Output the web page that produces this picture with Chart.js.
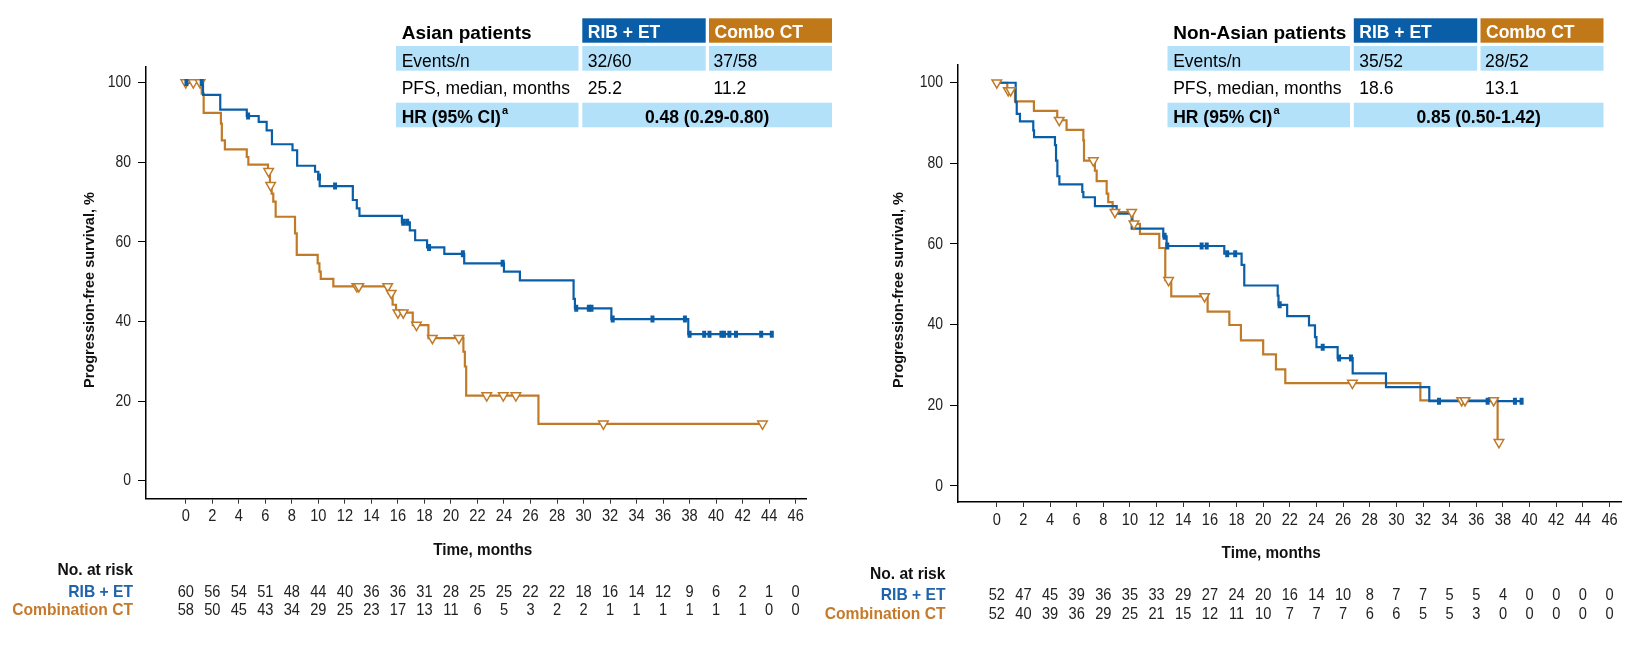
<!DOCTYPE html>
<html>
<head>
<meta charset="utf-8">
<script src="https://cdn.jsdelivr.net/npm/chart.js@4.4.1/dist/chart.umd.min.js"></script>
<style>
  html, body { margin: 0; padding: 0; background: #fff; }
  #wrap { position: relative; width: 1646px; height: 654px; overflow: hidden; }
  canvas { position: absolute; top: 0; display: block; }
</style>
</head>
<body>
<div id="wrap">
  <canvas id="asian" width="850" height="654" style="left:0"></canvas>
  <canvas id="nonAsian" width="866" height="654" style="left:780px"></canvas>
</div>
<script>
// ---- data ----
const timeTicks = [0, 2, 4, 6, 8, 10, 12, 14, 16, 18, 20, 22, 24, 26, 28, 30, 32, 34, 36, 38, 40, 42, 44, 46];
const yTicks = [0, 20, 40, 60, 80, 100];

// Asian patients
const asianRibT = [0, 1.3, 2.6, 4.6, 5.5, 6.1, 6.5, 8.05, 8.4, 9.75, 10.0, 10.1, 12.6, 12.9, 13.1, 16.3, 16.9, 17.3, 18.2, 19.5, 21.0, 24.0, 25.2, 29.25, 29.35, 32.1, 37.9, 44.2];
const asianRibS = [100, 96.9, 93.2, 91.6, 90.1, 88.0, 84.5, 83.0, 79.1, 77.6, 76.3, 74.0, 70.5, 68.4, 66.5, 64.9, 62.9, 60.4, 58.6, 57.0, 54.6, 52.5, 50.3, 45.7, 43.3, 40.6, 36.8, 36.8];
const asianRibCens = [0.05, 1.2, 4.7, 10.05, 11.26, 16.4, 16.7, 18.35, 20.9, 23.9, 29.45, 30.4, 30.6, 32.2, 35.2, 37.65, 38.0, 39.1, 39.5, 40.4, 40.6, 41.0, 41.5, 43.4, 44.2];
const asianCtT = [0, 1.2, 1.35, 2.65, 2.72, 2.95, 4.6, 4.72, 6.2, 6.35, 6.48, 6.6, 6.78, 8.24, 8.37, 9.95, 10.08, 10.18, 11.13, 15.3, 15.6, 15.86, 17.12, 18.3, 20.94, 21.05, 21.15, 26.6, 43.5];
const asianCtS = [100, 97.2, 92.4, 89.7, 85.5, 83.2, 81.3, 79.4, 77.7, 74.2, 72.1, 70.1, 66.3, 62.1, 56.7, 54.6, 52.5, 50.7, 48.8, 47.1, 44.2, 42.2, 39.1, 35.8, 32.4, 28.7, 21.4, 14.3, 14.3];
const asianCtCens = [0, 0.57, 1.08, 6.25, 6.4, 12.9, 13.05, 15.23, 15.5, 16.0, 16.4, 17.4, 18.6, 20.6, 22.7, 23.95, 24.9, 31.5, 43.5];
const asianRiskRib = [60, 56, 54, 51, 48, 44, 40, 36, 36, 31, 28, 25, 25, 22, 22, 18, 16, 14, 12, 9, 6, 2, 1, 0];
const asianRiskCt = [58, 50, 45, 43, 34, 29, 25, 23, 17, 13, 11, 6, 5, 3, 2, 2, 1, 1, 1, 1, 1, 1, 0, 0];
const asianEvents = ['32/60', '37/58'];
const asianMedian = ['25.2', '11.2'];
const asianHR = '0.48 (0.29-0.80)';

// Non-Asian patients
const nonAsianRibT = [0, 1.42, 1.5, 1.74, 2.74, 2.8, 4.37, 4.45, 4.55, 4.7, 6.42, 6.5, 7.37, 9.0, 10.13, 12.5, 12.75, 17.08, 18.38, 18.58, 21.09, 21.15, 21.8, 23.44, 23.89, 24.0, 25.59, 26.72, 29.22, 32.47, 39.5];
const nonAsianRibS = [100, 95.2, 92.3, 90.4, 88.2, 86.5, 84.5, 80.7, 76.8, 74.8, 72.9, 71.6, 69.4, 67.5, 63.8, 61.9, 59.5, 57.6, 54.8, 49.7, 47.2, 44.9, 42.1, 39.8, 36.9, 34.4, 31.7, 27.9, 24.5, 21.0, 21.0];
const nonAsianRibCens = [12.6, 12.8, 15.38, 15.76, 17.3, 17.9, 21.24, 24.47, 25.7, 26.59, 33.2, 36.85, 38.9, 39.4];
const nonAsianCtT = [0, 0.79, 1.37, 2.79, 4.54, 5.24, 6.5, 6.55, 7.37, 7.5, 8.25, 8.37, 8.7, 10.2, 10.75, 12.2, 12.65, 13.1, 15.83, 17.46, 18.33, 20.0, 20.96, 21.66, 31.8, 37.6, 37.7];
const nonAsianCtS = [100, 98.1, 95.4, 93.0, 90.7, 88.3, 85.7, 80.7, 78.2, 75.6, 72.5, 70.4, 67.9, 65.0, 62.5, 59.0, 51.0, 47.0, 43.2, 39.9, 36.1, 32.6, 28.9, 25.5, 21.2, 10.8, 10.8];
const nonAsianCtCens = [0, 0.86, 1.04, 4.69, 7.25, 8.87, 10.13, 10.3, 12.9, 15.6, 26.7, 34.9, 35.15, 37.3, 37.7];
const nonAsianRiskRib = [52, 47, 45, 39, 36, 35, 33, 29, 27, 24, 20, 16, 14, 10, 8, 7, 7, 5, 5, 4, 0, 0, 0, 0];
const nonAsianRiskCt = [52, 40, 39, 36, 29, 25, 21, 15, 12, 11, 10, 7, 7, 7, 6, 6, 5, 5, 3, 0, 0, 0, 0, 0];
const nonAsianEvents = ['35/52', '28/52'];
const nonAsianMedian = ['18.6', '13.1'];
const nonAsianHR = '0.85 (0.50-1.42)';

// ---- styling ----
const BLUE = '#0A5EA8';
const ORANGE = '#C07A28';
const HEAD_ORANGE = '#C17818';
const LIGHT = '#B3E1FA';
const SANS = "'Liberation Sans', Arial, sans-serif";

function stepValue(T, S, t) {
  let v = S[0];
  for (let i = 0; i < T.length; i++) if (T[i] <= t) v = S[i];
  return v;
}
const curve = (T, S) => T.map((t, i) => ({ x: t, y: S[i] }));
const marks = (T, S, C) => C.map(t => ({ x: t, y: stepValue(T, S, t) }));

// condensed text: Liberation Sans squeezed horizontally
function narrowText(ctx, text, x, y, align, sq) {
  ctx.save();
  ctx.translate(x, y);
  ctx.scale(sq, 1);
  ctx.textAlign = align;
  ctx.fillText(text, 0, 0);
  ctx.restore();
}

function drawTable(ctx, tx, title, events, median, hr) {
  const c0 = tx, c1 = tx + 186.3, c2 = tx + 313, end = tx + 436;
  ctx.fillStyle = BLUE;
  ctx.fillRect(c1, 18.3, 123.4, 24.4);
  ctx.fillStyle = HEAD_ORANGE;
  ctx.fillRect(c2, 18.3, 123, 24.4);
  ctx.fillStyle = LIGHT;
  ctx.fillRect(c0, 46, 182.5, 24.7);
  ctx.fillRect(c1, 46, 123.4, 24.7);
  ctx.fillRect(c2, 46, 123, 24.7);
  ctx.fillRect(c0, 102.7, 182.5, 24.6);
  ctx.fillRect(c1, 102.7, end - c1, 24.6);

  ctx.textAlign = 'left';
  ctx.textBaseline = 'alphabetic';
  ctx.fillStyle = '#000';
  ctx.font = 'bold 19px ' + SANS;
  ctx.fillText(title, c0 + 5.7, 39.3);
  ctx.fillStyle = '#fff';
  ctx.font = 'bold 17.5px ' + SANS;
  ctx.fillText('RIB + ET', c1 + 5.5, 38.3);
  ctx.fillText('Combo CT', c2 + 5.5, 38.3);

  ctx.fillStyle = '#000';
  ctx.font = '17.5px ' + SANS;
  ctx.fillText('Events/n', c0 + 5.7, 66.5);
  ctx.fillText(events[0], c1 + 5.5, 66.5);
  ctx.fillText(events[1], c2 + 4.5, 66.5);
  ctx.fillText('PFS, median, months', c0 + 5.7, 94.3);
  ctx.fillText(median[0], c1 + 5.5, 94.3);
  ctx.fillText(median[1], c2 + 4.5, 94.3);

  ctx.font = 'bold 17.5px ' + SANS;
  const hrLabel = 'HR (95% CI)';
  ctx.fillText(hrLabel, c0 + 5.7, 122.7);
  const w = ctx.measureText(hrLabel).width;
  ctx.font = 'bold 11px ' + SANS;
  ctx.fillText('a', c0 + 5.7 + w + 1, 114);
  ctx.font = 'bold 17.5px ' + SANS;
  ctx.textAlign = 'center';
  ctx.fillText(hr, (c1 + end) / 2, 122.7);
}

function makePanel(id, p) {
  const canvas = document.getElementById(id);
  const W = canvas.width, H = canvas.height;

  const overlay = {
    id: 'overlay',
    afterDraw(chart) {
      const ctx = chart.ctx;
      const xs = chart.scales.x, ys = chart.scales.y;
      const area = chart.chartArea;
      ctx.save();
      ctx.textBaseline = 'middle';

      // tick labels
      ctx.fillStyle = '#222';
      ctx.font = '17px ' + SANS;
      yTicks.forEach(v => narrowText(ctx, String(v), area.left - 15, ys.getPixelForValue(v), 'right', 0.82));
      timeTicks.forEach(m => narrowText(ctx, String(m), xs.getPixelForValue(m), area.bottom + 18, 'center', 0.86));

      // y title
      ctx.save();
      ctx.translate(p.yTitleX, 290);
      ctx.rotate(-Math.PI / 2);
      ctx.textAlign = 'center';
      ctx.fillStyle = '#111';
      ctx.font = 'bold 14.5px ' + SANS;
      ctx.fillText('Progression-free survival, %', 0, 0);
      ctx.restore();

      // x title
      ctx.fillStyle = '#111';
      ctx.font = 'bold 17px ' + SANS;
      narrowText(ctx, 'Time, months', xs.getPixelForValue(p.xTitleAt), p.rows[0], 'center', 0.9);

      // number at risk
      narrowText(ctx, 'No. at risk', p.riskLabelX, p.rows[1], 'right', 0.92);
      ctx.fillStyle = '#1F63AC';
      narrowText(ctx, 'RIB + ET', p.riskLabelX, p.rows[2], 'right', 0.92);
      ctx.fillStyle = '#C47A2A';
      narrowText(ctx, 'Combination CT', p.riskLabelX, p.rows[3], 'right', 0.92);

      ctx.fillStyle = '#222';
      ctx.font = '17px ' + SANS;
      timeTicks.forEach((m, i) => {
        const x = xs.getPixelForValue(m);
        narrowText(ctx, String(p.riskRib[i]), x, p.rows[2], 'center', 0.86);
        narrowText(ctx, String(p.riskCt[i]), x, p.rows[3], 'center', 0.86);
      });

      drawTable(ctx, p.tableX, p.title, p.events, p.median, p.hr);
      ctx.restore();
    }
  };

  new Chart(canvas, {
    type: 'scatter',
    data: {
      datasets: [
        {
          data: marks(p.ribT, p.ribS, p.ribCens),
          pointStyle: 'line', pointRotation: 90, pointRadius: 3.5,
          pointBorderWidth: 4, pointBorderColor: BLUE, pointBackgroundColor: BLUE
        },
        {
          data: marks(p.ctT, p.ctS, p.ctCens),
          pointStyle: 'triangle', pointRotation: 180, pointRadius: 5.5,
          pointBorderWidth: 1.5, pointBorderColor: ORANGE, pointBackgroundColor: '#fff'
        },
        {
          data: curve(p.ribT, p.ribS), showLine: true, stepped: 'before',
          borderColor: BLUE, borderWidth: 2.2, pointRadius: 0, fill: false
        },
        {
          data: curve(p.ctT, p.ctS), showLine: true, stepped: 'before',
          borderColor: ORANGE, borderWidth: 2.2, pointRadius: 0, fill: false
        }
      ]
    },
    options: {
      responsive: false,
      animation: false,
      events: [],
      layout: {
        autoPadding: false,
        padding: { left: p.plotLeft - p.axisBox, top: p.plotTop, right: W - p.plotRight, bottom: 0 }
      },
      plugins: { legend: { display: false }, tooltip: { enabled: false } },
      scales: {
        x: {
          type: 'linear', min: p.xMin, max: p.xMax,
          afterBuildTicks: s => { s.ticks = timeTicks.map(v => ({ value: v })); },
          afterFit: s => { s.height = H - p.plotBottom; },
          grid: { display: true, drawOnChartArea: false, drawTicks: true, tickLength: 5, color: '#333', lineWidth: 1 },
          border: { display: true, color: '#000', width: 1.5 },
          ticks: { display: false }
        },
        y: {
          type: 'linear', min: p.yMin, max: p.yMax,
          afterBuildTicks: s => { s.ticks = yTicks.map(v => ({ value: v })); },
          afterFit: s => { s.width = p.axisBox; },
          grid: { display: true, drawOnChartArea: false, drawTicks: true, tickLength: 8, color: '#000', lineWidth: 1 },
          border: { display: true, color: '#000', width: 1.5 },
          ticks: { display: false }
        }
      }
    },
    plugins: [overlay]
  });
}

makePanel('asian', {
  ribT: asianRibT, ribS: asianRibS, ribCens: asianRibCens,
  ctT: asianCtT, ctS: asianCtS, ctCens: asianCtCens,
  riskRib: asianRiskRib, riskCt: asianRiskCt,
  title: 'Asian patients', events: asianEvents, median: asianMedian, hr: asianHR,
  axisBox: 40, plotLeft: 146, plotRight: 806, plotTop: 67, plotBottom: 498.7,
  xMin: -3, xMax: 46.78, yMin: -4.5, yMax: 103.9, xTitleAt: 22.4,
  yTitleX: 90, riskLabelX: 133, rows: [550, 570, 592, 610], tableX: 396
});

// right canvas starts at x = 780 of the page
makePanel('nonAsian', {
  ribT: nonAsianRibT, ribS: nonAsianRibS, ribCens: nonAsianRibCens,
  ctT: nonAsianCtT, ctS: nonAsianCtS, ctCens: nonAsianCtCens,
  riskRib: nonAsianRiskRib, riskCt: nonAsianRiskCt,
  title: 'Non-Asian patients', events: nonAsianEvents, median: nonAsianMedian, hr: nonAsianHR,
  axisBox: 40, plotLeft: 178, plotRight: 841.5, plotTop: 65, plotBottom: 502,
  xMin: -2.91, xMax: 46.9, yMin: -4.0, yMax: 104.4, xTitleAt: 20.6,
  yTitleX: 119, riskLabelX: 165.5, rows: [553, 574, 595, 614], tableX: 387.5
});
</script>
</body>
</html>
